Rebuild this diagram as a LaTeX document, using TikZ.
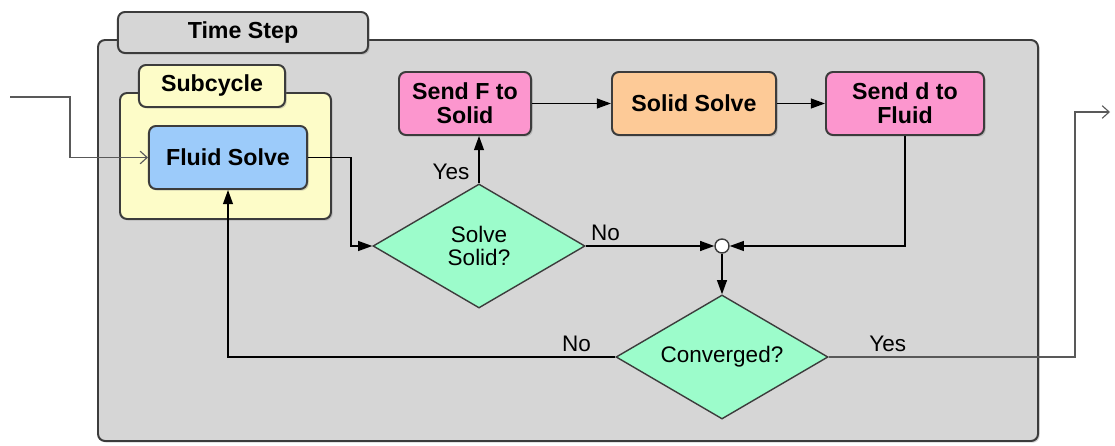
\documentclass[tikz,border=0pt]{standalone}
\usepackage{fontspec}
\setmainfont{Liberation Sans}
\usetikzlibrary{shapes.geometric,arrows.meta,shadows}

\definecolor{edge}{HTML}{3C3C3C}
\definecolor{panel}{HTML}{D6D6D6}
\definecolor{cyclefill}{HTML}{FDFCC8}
\definecolor{fluidfill}{HTML}{9CCBFA}
\definecolor{sendfill}{HTML}{FC96CE}
\definecolor{solidfill}{HTML}{FDCA97}
\definecolor{askfill}{HTML}{9CFCCB}

\begin{document}
\begin{tikzpicture}[x=0.025cm,y=-0.025cm,
		shade/.style={drop shadow={shadow xshift=1.2pt,shadow yshift=-1.2pt,opacity=0.35}},
		frame/.style={draw=edge,line width=1.4pt,rounded corners=5pt,shade},
		tab/.style={frame,fill=panel,inner sep=0pt,font=\fontsize{16.5}{17}\selectfont\bfseries},
		box/.style={frame,minimum height=1.575cm,inner sep=2pt,align=center,font=\fontsize{16.5}{17}\selectfont\bfseries},
		ask/.style={diamond,aspect=2,draw=edge,line width=1pt,fill=askfill,inner sep=0pt,minimum width=5.3cm,minimum height=3.1cm,align=center,font=\fontsize{16}{17}\selectfont},
		flow/.style={line width=1pt,-{Triangle[length=10pt,width=7pt]}},
		feed/.style={line width=0.8pt,draw=black!65,-{Straight Barb[length=5pt,width=9pt]}},
		lbl/.style={font=\fontsize{16}{17}\selectfont}]
	\useasboundingbox (0,0) rectangle (1115,446);

	% time step panel and its tab
	\draw[frame,fill=panel] (98,40) rectangle (1038,441);
	\node[tab,minimum width=6.25cm,minimum height=1.025cm] (steptab) at (243,32.5) {Time Step};

	% subcycle panel and its tab
	\draw[frame,fill=cyclefill] (120,93) rectangle (331,219);
	\node[tab,fill=cyclefill,minimum width=3.65cm,minimum height=1.05cm] (cycletab) at (212,86) {Subcycle};

	% steps
	\node[box,fill=fluidfill,minimum width=3.95cm] (fluid) at (228,157.5) {Fluid Solve};
	\node[box,fill=sendfill,minimum width=3.3cm] (sendF) at (465,103.5) {Send F to\\Solid};
	\node[box,fill=solidfill,minimum width=4.1cm] (solid) at (694,103.5) {Solid Solve};
	\node[box,fill=sendfill,minimum width=3.95cm] (sendD) at (905,103.5) {Send d to\\Fluid};

	% decisions
	\node[ask] (solve) at (479,246) {Solve\\Solid?};
	\node[ask] (conv) at (722,357) {Converged?};
	\node[circle,draw=edge,line width=1pt,fill=white,inner sep=0pt,minimum size=0.35cm] (join) at (722,246) {};

	\coordinate (in) at (10,97);
	\coordinate (out) at (1110,112);

	% connectors
	\draw[feed] (in) -- (70,97) |- (fluid.west);
	\draw[flow] (fluid.east) -- ++(43,0) |- (solve.west);
	\draw[flow] (solve.north) -- node[lbl,pos=0.25,left=3pt] {Yes} (solve.north |- sendF.south);
	\draw[flow] (sendF) -- (solid);
	\draw[flow] (solid) -- (sendD);
	\draw[flow] (sendD.south) |- (join.east);
	\draw[flow] (solve.east) -- node[lbl,pos=0,above right] {No} (join.west);
	\draw[flow] (join) -- (conv);
	\draw[flow] (conv.west) -| node[lbl,pos=0.05,above] {No} (fluid.south);
	\draw[feed] (conv.east) -- node[lbl,pos=0.24,above] {Yes} (1075,357) |- (out);
\end{tikzpicture}
\end{document}
